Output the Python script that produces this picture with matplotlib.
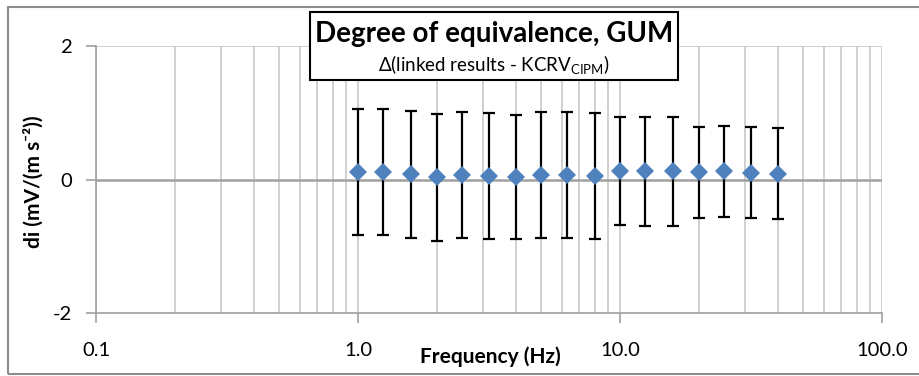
import matplotlib
matplotlib.use("Agg")
import matplotlib.pyplot as plt
from matplotlib.patches import Rectangle
from matplotlib.ticker import FixedLocator, NullFormatter, FuncFormatter

freq = [1.0, 1.25, 1.6, 2.0, 2.5, 3.15, 4.0, 5.0, 6.3, 8.0,
        10.0, 12.5, 16.0, 20.0, 25.0, 31.5, 40.0]
di = [0.11, 0.11, 0.08, 0.03, 0.065, 0.05, 0.04, 0.065, 0.065, 0.05,
      0.13, 0.12, 0.12, 0.11, 0.12, 0.10, 0.085]
U = [0.94, 0.94, 0.95, 0.95, 0.94, 0.94, 0.93, 0.94, 0.94, 0.94,
     0.81, 0.82, 0.82, 0.68, 0.68, 0.68, 0.68]
xticks = [0.1, 1.0, 10.0, 100.0]
yticks = [-2, 0, 2]

plt.rcParams['font.family'] = ['Lato', 'DejaVu Sans']

W, H = 920, 376
fig = plt.figure(figsize=(9.2, 3.76), dpi=100)
ax = fig.add_axes([96 / W, 1 - 313 / H, (882 - 96) / W, (313 - 46) / H])

# outer border
fig.patches.append(Rectangle((8 / W, 1 - 374 / H), 2.0, (374 - 7) / H,
                             transform=fig.transFigure, fill=False,
                             edgecolor='#8c8c8c', linewidth=1.5, zorder=0))

ax.set_xscale('log')
ax.set_xlim(0.1, 100)
ax.set_ylim(-2, 2)

minors = [m * 10.0 ** e for e in (-1, 0, 1) for m in range(2, 10)]
ax.xaxis.set_major_locator(FixedLocator(xticks))
ax.xaxis.set_minor_locator(FixedLocator(minors))
ax.xaxis.set_minor_formatter(NullFormatter())
ax.xaxis.set_major_formatter(FuncFormatter(lambda v, p: f"{v:.1f}"))
ax.set_yticks(yticks)
ax.set_yticklabels([str(t) for t in yticks])

for x in xticks + minors:
    ax.axvline(x, color='#c8c8c8', linewidth=1.2, zorder=1)
ax.axhline(2, color='#c8c8c8', linewidth=1.2, zorder=1)
ax.axhline(0, color='#a0a0a0', linewidth=1.8, zorder=1)

for s in ('top', 'right'):
    ax.spines[s].set_visible(False)
for s in ('left', 'bottom'):
    ax.spines[s].set_color('#a0a0a0')
    ax.spines[s].set_linewidth(1.2)

ax.tick_params(axis='both', which='major', direction='out', length=7,
               width=1.2, color='#a0a0a0', labelsize=14.5, labelcolor='black')
ax.tick_params(axis='x', which='major', pad=14)
ax.tick_params(axis='y', which='major', pad=10)
ax.tick_params(axis='x', which='minor', length=0)

_, caps, bars = ax.errorbar(freq, di, yerr=U, fmt='D', color='#4f81bd',
                            markersize=9, markeredgewidth=0,
                            ecolor='black', elinewidth=1.6, capsize=4.5,
                            capthick=1.6, zorder=3)
for c in caps:
    c.set_markeredgewidth(1.6)
    c.set_markeredgecolor('black')

fig.text(490 / W, 1 - 357 / H, 'Frequency (Hz)', ha='center', va='center',
         fontsize=15, fontweight='bold')
fig.text(33 / W, 1 - 182 / H, 'di (mV/(m s\u207b\u00b2))', ha='center', va='center',
         rotation=90, fontsize=15, fontweight='bold')

# title box
fig.patches.append(Rectangle((310 / W, 1 - 80 / H), (678 - 310) / W, (80 - 12) / H,
                             transform=fig.transFigure, facecolor='white',
                             edgecolor='black', linewidth=1.5, zorder=5))
fig.text(494 / W, 1 - 34 / H, 'Degree of equivalence, GUM', ha='center', va='center',
         fontsize=20, fontweight='bold', zorder=6)
fig.text(494 / W, 1 - 65 / H, 'Δ(linked results - KCRV$_{\\mathregular{CIPM}}$)',
         ha='center', va='center', fontsize=13.5, zorder=6)

fig.savefig('out.png', dpi=100)
